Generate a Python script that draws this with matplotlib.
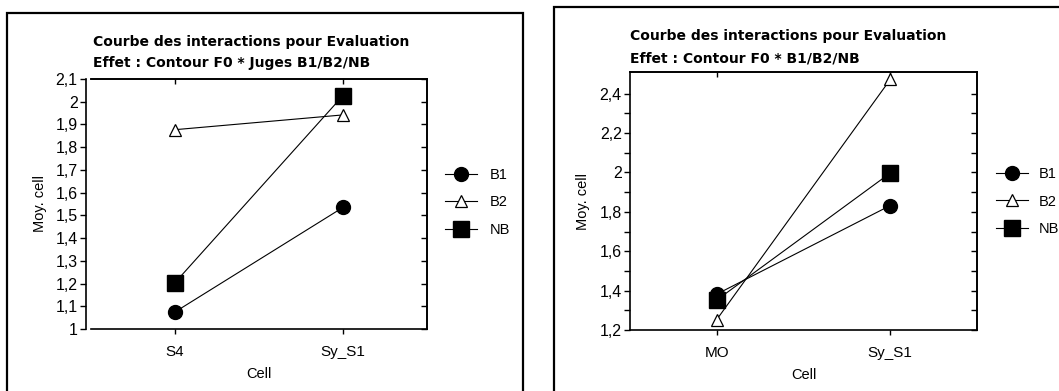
import matplotlib
matplotlib.use("Agg")
import matplotlib.pyplot as plt
from matplotlib.patches import Rectangle
from matplotlib.ticker import FuncFormatter, FixedLocator

plt.rcParams['font.family'] = ['Liberation Sans', 'DejaVu Sans']

# Left panel: Contour F0 x Juges B1/B2/NB
cells_left = ["S4", "Sy_S1"]
b1_left = [1.075, 1.535]
b2_left = [1.877, 1.942]
nb_left = [1.204, 2.027]

# Right panel: Contour F0 x B1/B2/NB
cells_right = ["MO", "Sy_S1"]
b1_right = [1.382, 1.832]
b2_right = [1.253, 2.472]
nb_right = [1.352, 1.997]

series_names = ["B1", "B2", "NB"]
title_line1 = "Courbe des interactions pour Evaluation"
title_left = "Effet : Contour F0 * Juges B1/B2/NB"
title_right = "Effet : Contour F0 * B1/B2/NB"

W, H = 1059, 391
fig = plt.figure(figsize=(W / 100, H / 100), dpi=100)


def px_rect(x0, y0, x1, y1):
    return [x0 / W, 1 - y1 / H, (x1 - x0) / W, (y1 - y0) / H]


def comma_fmt(v, pos):
    s = f"{v:.1f}".rstrip("0").rstrip(".")
    return s.replace(".", ",")


styles = [
    dict(marker="o", markersize=10, markerfacecolor="black"),
    dict(marker="^", markersize=9, markerfacecolor="white", markeredgewidth=0.9),
    dict(marker="s", markersize=11, markerfacecolor="black"),
]


def panel(rect, cells, series, ylim, major, minor, left_offset, ylabel_x,
          title_x, title_ys, subtitle, legend_xy, text_pad):
    ax = fig.add_axes(px_rect(*rect))
    x = list(range(len(cells)))
    lines = []
    for vals, name, st in zip(series, series_names, styles):
        ln, = ax.plot(x, vals, color="black", lw=0.8, markeredgecolor="black",
                      label=name, clip_on=False, **st)
        lines.append(ln)
    ax.set_xlim(-0.5, 1.5)
    ax.set_ylim(*ylim)
    ax.set_xticks(x)
    ax.set_xticklabels(cells, fontsize=11)
    ax.yaxis.set_major_locator(FixedLocator(major))
    ax.yaxis.set_major_formatter(FuncFormatter(comma_fmt))
    if minor:
        ax.yaxis.set_minor_locator(FixedLocator(minor))
    for s in ax.spines.values():
        s.set_linewidth(1.2)
    if left_offset:
        ax.spines["left"].set_position(("outward", left_offset))
    ax.tick_params(axis="y", which="both", direction="out", length=4,
                   width=1, labelsize=11.5, pad=2)
    ax.tick_params(axis="x", direction="out", length=3.5, width=1, pad=8)
    ax.set_xlabel("Cell", fontsize=10.5, labelpad=6)
    ax.set_ylabel("Moy. cell", fontsize=10.5)
    ax.yaxis.set_label_coords(ylabel_x, 0.5)

    # inward ticks on the right and top edges
    sy = ax.secondary_yaxis("right")
    sy.yaxis.set_major_locator(FixedLocator(major))
    if minor:
        sy.yaxis.set_minor_locator(FixedLocator(minor))
    sy.tick_params(axis="y", which="both", direction="in", length=4, width=1,
                   labelright=False)
    sy.spines["right"].set_linewidth(1.2)
    sx = ax.secondary_xaxis("top")
    sx.set_xticks(x)
    sx.tick_params(axis="x", direction="in", length=3.5, width=1,
                   labeltop=False)
    sx.spines["top"].set_linewidth(1.2)

    for txt, ty in zip([title_line1, subtitle], title_ys):
        fig.text(title_x / W, 1 - ty / H, txt, fontsize=10, family="DejaVu Sans",
                 fontweight="bold", ha="left", va="center")

    fig.legend(handles=lines, loc="center left", frameon=False,
               bbox_to_anchor=(legend_xy[0] / W, 1 - legend_xy[1] / H),
               borderpad=0, borderaxespad=0, handlelength=2.2,
               handletextpad=text_pad, labelspacing=0.9, fontsize=10.5)
    return ax


panel((91, 79, 427, 329), cells_left, [b1_left, b2_left, nb_left],
      (1.0, 2.1), [1.0 + 0.1 * i for i in range(12)], None, 3.6, -0.13,
      93, (42, 63), title_left, (445, 202.5), 0.9)

panel((630, 72, 977, 330), cells_right, [b1_right, b2_right, nb_right],
      (1.2, 2.51), [1.2, 1.4, 1.6, 1.8, 2.0, 2.2, 2.4],
      [1.3, 1.5, 1.7, 1.9, 2.1, 2.3], 0, -0.115,
      630, (36, 58), title_right, (996, 201.5), 0.7)

# outer frames around each panel
for x0, y0, x1 in [(7, 13, 523), (554, 7, 1070)]:
    fig.patches.append(Rectangle((x0 / W, -0.05), (x1 - x0) / W,
                                 1 - y0 / H + 0.05, transform=fig.transFigure,
                                 fill=False, lw=1.6, edgecolor="black"))

fig.savefig("out.png", dpi=100)
